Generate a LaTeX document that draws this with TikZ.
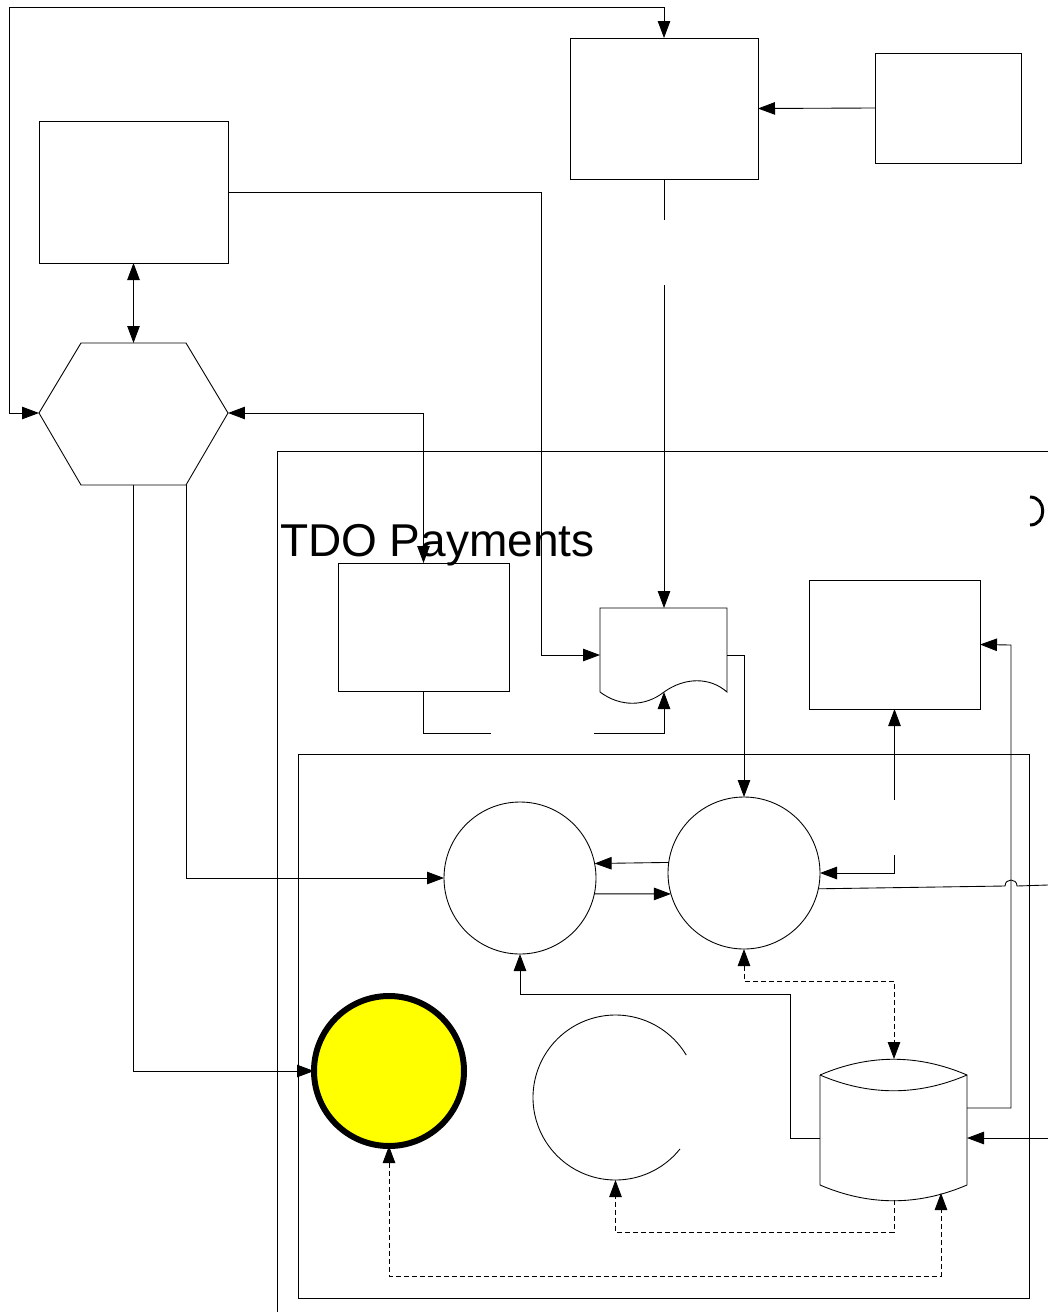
\documentclass[tikz,border=0pt]{standalone}
\usepackage{fontspec}
\setmainfont{Liberation Sans}
\usetikzlibrary{arrows.meta,calc}

\definecolor{procyellow}{RGB}{255,255,0}
\def\pxu{0.02cm}

\begin{document}
\begin{tikzpicture}[
  x=0.02cm, y=-0.02cm,
  line width=0.5pt,
  every node/.style={inner sep=0pt, outer sep=0pt},
  entbox/.style={
    rectangle, draw=black, line width=0.5pt,
  },
  proc/.style={
    circle, draw=black, line width=0.5pt,
    minimum size=152*\pxu,
  },
  startproc/.style={
    circle, draw=black, fill=procyellow,
    line width=6*\pxu, minimum size=150*\pxu,
  },
  lbl/.style={font=\fontsize{26.2}{30}\selectfont},
  sgl/.style={-{Triangle[length=0.34cm,width=0.25cm]}},
  tipS/.style={{Triangle[length=0.34cm,width=0.25cm]}-},
  dbl/.style={{Triangle[length=0.34cm,width=0.25cm]}-{Triangle[length=0.34cm,width=0.25cm]}},
  dsh/.style={dash pattern=on 0.1cm off 0.06cm},
]

% ----- canvas -----
\fill[white] (0,0) rectangle (1048,1312);
\useasboundingbox (0,0) rectangle (1048,1312);

% ----- pool and lane -----
\draw (277,1312) -- (277,451) -- (1048,451);
\draw (298,754) rectangle (1029,1298);
\node[lbl, anchor=base west] (poolLbl) at (280,556) {TDO Payments};
\draw[line width=3*\pxu] (1030,497) .. controls (1047,497) and (1047,525) .. (1030,525);

% ----- outside entities -----
\node[entbox, minimum width=189*\pxu, minimum height=142*\pxu] (boxA) at (133.5,192) {};
\node[entbox, minimum width=188*\pxu, minimum height=141*\pxu] (boxB) at (664,108.5) {};
\node[entbox, minimum width=146*\pxu, minimum height=110*\pxu] (boxC) at (948,108) {};

% hexagon
\coordinate (hexW)  at (39,413);
\coordinate (hexNW) at (81,343);
\coordinate (hexNE) at (186,343);
\coordinate (hexE)  at (228,413);
\coordinate (hexSE) at (186,485);
\coordinate (hexSW) at (81,485);
\coordinate (hexN)  at (133.5,343);
\coordinate (hexS)  at (133.5,485);
\draw (hexW) -- (hexNW) -- (hexNE) -- (hexE) -- (hexSE) -- (hexSW) -- cycle;

% ----- pool boxes and document -----
\node[entbox, minimum width=171*\pxu, minimum height=128*\pxu] (boxE) at (423.5,627) {};
\node[entbox, minimum width=171*\pxu, minimum height=129*\pxu] (boxF) at (894.5,644.5) {};

\coordinate (docN) at (664,608);
\coordinate (docW) at (600,655);
\coordinate (docE) at (727,655);
\coordinate (docS) at (664,692);
\draw (600,692) -- (600,608) -- (727,608) -- (727,692)
  .. controls (710,677) and (685,677) .. (664,692)
  .. controls (645,707) and (620,707) .. (600,692);

% ----- lane: processes and store -----
\node[proc] (P1) at (520,878) {};
\node[proc] (P2) at (744,873) {};
\node[startproc] (Y) at (389,1071) {};
\node[minimum size=165*\pxu, circle] (Cpart) at (615.5,1097.5) {};
\draw plot[domain=-321.4:-31, samples=80, smooth]
  ({615.5+82.5*cos(\x)}, {1097.5+82.5*sin(\x)});

\coordinate (cylN)  at (894,1059);
\coordinate (cylS)  at (894,1200);
\coordinate (cylW)  at (820,1138);
\coordinate (cylE1) at (967,1108);
\coordinate (cylE2) at (967,1138);
\coordinate (cylSE) at (941,1193);
\draw (820,1075) -- (820,1185) .. controls (869,1206) and (918,1206) .. (967,1185)
  -- (967,1075) .. controls (918,1054) and (869,1054) .. (820,1075);
\draw (820,1075) .. controls (869,1096) and (918,1096) .. (967,1075);

% ----- connectors -----
\draw[dbl] (hexW) -| (9,7) -| (boxB.north);
\draw[dbl] (boxA.south) -- (hexN);
\draw[sgl] (boxA.east) -| (541,655) -- (docW);
\draw[sgl] (boxC.west) -- (boxB.east);
\draw (boxB.south) -- (664,220);
\draw[sgl] (664,285) -- (docN);
\draw[dbl] (hexE) -| (boxE.north);
\draw (boxE.south) |- (491,733);
\draw[sgl] (594,733) -| (docS);
\draw[sgl] (hexSE) |- (P1.west);
\draw[sgl] (hexS) |- (Y.west);
\draw[sgl] (docE) -| (P2.north);
\draw[sgl] (P2.172.4) -- (P1.11.4);
\draw[sgl] (P1.-12.9) -- (P2.196.8);
\draw[tipS] (boxF.south) -- (894.5,800);
\draw[sgl] (894.5,855) |- (P2.east);
\draw[sgl] (cylW) -| (790,994) -| (P1.south);
\draw[dbl, dsh] (P2.south) |- (cylN |- 0,981) -- (cylN);
\draw[sgl] (cylE1) -| (1011,645) -- (boxF.east);
\coordinate (extA) at (1048,885);
\coordinate (extB) at (1048,1138);
\draw[sgl] (extB) -- (cylE2);
\draw (P2.-12.9) -- (1005,886) .. controls (1005,878) and (1017,878) .. (1017,886) -- (extA);
\draw[sgl, dsh] (cylS) |- (Cpart.south |- 0,1232) -- (Cpart.south);
\draw[dbl, dsh] (Y.south) |- (cylSE |- 0,1276) -- (cylSE);

\end{tikzpicture}
\end{document}
